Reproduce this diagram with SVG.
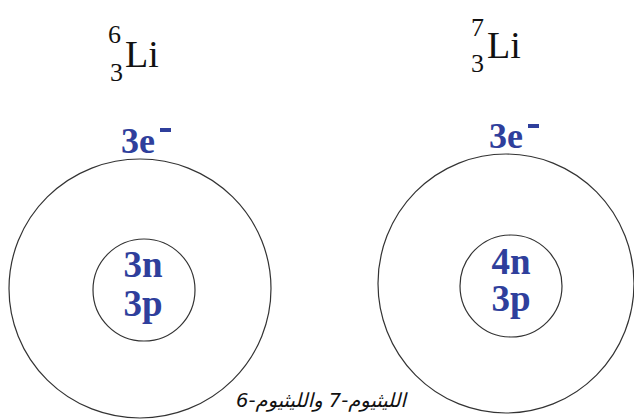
<svg xmlns="http://www.w3.org/2000/svg" width="634" height="420" viewBox="0 0 634 420">
<style>
.orb{fill:none;stroke:#333;stroke-width:1.2}
.iso{font-family:"Liberation Serif",serif;fill:#111}
.num{font-size:26px}
.sym{font-size:38px}
.blue{font-family:"Liberation Serif",serif;font-weight:bold;fill:#2f3f9c;text-anchor:middle}
.minus{fill:#2f3f9c}
.cap{font-family:"DejaVu Sans","Noto Sans",sans-serif;font-size:19.5px;font-style:italic;fill:#111}
</style>
<rect width="634" height="420" fill="#fff"/>
<g id="li6">
<ellipse class="orb" cx="140" cy="288.5" rx="131" ry="129.5"/>
<ellipse class="orb" cx="144" cy="290" rx="51" ry="51"/>
<text class="iso num" x="108" y="43">6</text>
<text class="iso num" x="110" y="81">3</text>
<text class="iso sym" x="125" y="67">Li</text>
<text class="blue" x="138" y="153" font-size="36">3e</text>
<rect class="minus" x="160" y="128" width="11" height="4"/>
<text class="blue" x="143" y="277" font-size="37">3n</text>
<text class="blue" x="143" y="316" font-size="37">3p</text>
</g>
<g id="li7">
<ellipse class="orb" cx="506" cy="283.5" rx="128" ry="129.5"/>
<ellipse class="orb" cx="511" cy="286" rx="51" ry="51"/>
<text class="iso num" x="471" y="36">7</text>
<text class="iso num" x="471" y="72">3</text>
<text class="iso sym" x="487" y="58">Li</text>
<text class="blue" x="506" y="148" font-size="36">3e</text>
<rect class="minus" x="528" y="124" width="11" height="4"/>
<text class="blue" x="511" y="274" font-size="37">4n</text>
<text class="blue" x="511" y="311" font-size="37">3p</text>
</g>
<g id="connectors"/>
<text class="cap" x="321" y="407" text-anchor="middle" direction="rtl">الليثيوم-7 والليثيوم-6</text>
</svg>
